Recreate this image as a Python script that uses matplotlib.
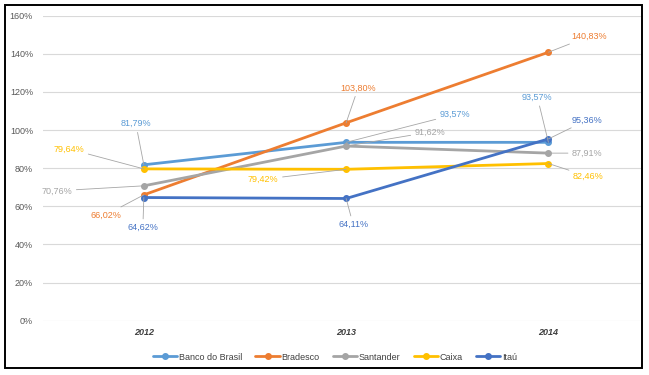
import matplotlib
matplotlib.use("Agg")
import matplotlib.pyplot as plt
from matplotlib.patches import Rectangle

plt.rcParams['font.family'] = ['Liberation Sans', 'DejaVu Sans']

years = ['2012', '2013', '2014']
series_names = ['Banco do Brasil', 'Bradesco', 'Santander', 'Caixa', 'Itaú']
banco_brasil = [81.79, 93.57, 93.57]
bradesco = [66.02, 103.80, 140.83]
santander = [70.76, 91.62, 87.91]
caixa = [79.64, 79.42, 82.46]
itau = [64.62, 64.11, 95.36]
values = [banco_brasil, bradesco, santander, caixa, itau]
y_ticks = [0, 20, 40, 60, 80, 100, 120, 140, 160]

colors = ['#5B9BD5', '#ED7D31', '#A5A5A5', '#FFC000', '#4472C4']
label_colors = ['#5B9BD5', '#ED7D31', '#A5A5A5', '#FFC000', '#4472C4']
# label offsets in pixels (dx, dy) for each series/point
offsets = [
    [(-8, 41), (109, 28), (-11, 45)],
    [(-38, -20), (12, 35), (41, 16)],
    [(-87, -5), (84, 14), (39, 0)],
    [(-75, 20), (-83, -10), (40, -13)],
    [(-1, -30), (7, -26), (39, 19)],
]

fig = plt.figure(figsize=(6.49, 3.75), dpi=100)
ax = fig.add_axes([0.0658, 0.1448, 0.9226, 0.8133])

x = list(range(len(years)))
handles = []
for name, vals, col in zip(series_names, values, colors):
    h, = ax.plot(x, vals, color=col, lw=2.0, marker='o', markersize=4,
                 label=name, solid_capstyle='round', zorder=3)
    handles.append(h)

for vals, col, offs in zip(values, label_colors, offsets):
    for xi, v, (dx, dy) in zip(x, vals, offs):
        txt = f"{v:.2f}".replace('.', ',') + '%'
        ax.annotate(txt, xy=(xi, v), xytext=(dx, dy), textcoords='offset pixels',
                    ha='center', va='center', fontsize=6.5, color=col,
                    arrowprops=dict(arrowstyle='-', color='#A6A6A6', lw=0.6,
                                    shrinkA=1, shrinkB=0),
                    zorder=5)

ax.set_xlim(-0.5, 2.46)
ax.set_ylim(0, 160)
ax.set_yticks(y_ticks)
ax.set_yticklabels([f"{t}%" for t in y_ticks])
ax.set_xticks(x)
ax.set_xticklabels(years, fontweight='bold', fontstyle='italic')
ax.tick_params(axis='y', length=0, pad=7, labelsize=6.5, labelcolor='#595959')
ax.tick_params(axis='x', length=0, pad=5, labelsize=6.5, labelcolor='#404040')
ax.grid(axis='y', color='#D9D9D9', lw=0.8, zorder=0)
ax.set_axisbelow(True)
for s in ax.spines.values():
    s.set_visible(False)

leg = fig.legend(handles=handles, labels=series_names, loc='center',
                 bbox_to_anchor=(0.516, 0.048), ncol=5, frameon=False,
                 fontsize=6.5, handlelength=2.7, handletextpad=0.15,
                 columnspacing=1.5, borderpad=0)
for t in leg.get_texts():
    t.set_color('#404040')

fig.patches.append(Rectangle((5 / 649, 7 / 375), 637 / 649, 363 / 375,
                             transform=fig.transFigure, fill=False,
                             edgecolor='black', lw=1.4, zorder=10))

fig.savefig('out.png', dpi=100, facecolor='white')
